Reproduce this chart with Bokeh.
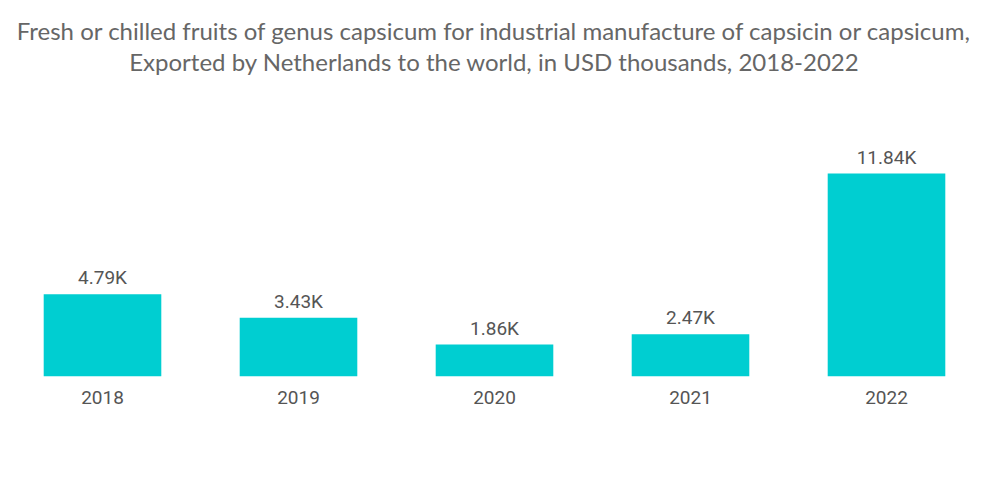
from bokeh.plotting import figure
from bokeh.models import Title, Range1d, ColumnDataSource, LabelSet, Spacer
from bokeh.layouts import column
from bokeh.core.properties import value
from bokeh.embed import file_html
from bokeh.resources import INLINE

years = ["2018", "2019", "2020", "2021", "2022"]
values = [4.79, 3.43, 1.86, 2.47, 11.84]
labels = ["4.79K", "3.43K", "1.86K", "2.47K", "11.84K"]

title1 = "Fresh or chilled fruits of genus capsicum for industrial manufacture of capsicin or capsicum,"
title2 = "Exported by Netherlands to the world, in USD thousands, 2018-2022"

src = ColumnDataSource(dict(x=years, top=values, label=labels))

FH = 301
p = figure(x_range=years, y_range=Range1d(0, 11.84 * FH / 203.0), frame_width=980, frame_height=FH,
           output_backend="svg", toolbar_location=None, title=None,
           min_border_left=4, min_border_right=0, min_border_top=0, min_border_bottom=50)
p.outline_line_color = None
p.background_fill_color = "white"
p.border_fill_color = "white"

p.add_layout(Title(text=title2, align="center", text_font="Lato", text_font_size="24px",
                   text_font_style="normal", text_color="#666666", standoff=0, offset=6), "above")
p.add_layout(Title(text=title1, align="center", text_font="Lato", text_font_size="24px",
                   text_font_style="normal", text_color="#666666", standoff=0, offset=6), "above")

p.vbar(x="x", top="top", width=0.6, source=src, color="#00CED1", line_color=None)

ls = LabelSet(x="x", y="top", text="label", source=src, text_align="center",
              text_baseline="bottom", y_offset=5, text_font=value("Roboto"),
              text_font_size="19px", text_color="#555555")
p.add_layout(ls)

p.yaxis.visible = False
p.xgrid.visible = False
p.ygrid.visible = False
p.xaxis.axis_line_color = None
p.xaxis.major_tick_line_color = None
p.xaxis.minor_tick_line_color = None
p.xaxis.major_label_text_font = "Roboto"
p.xaxis.major_label_text_font_size = "19px"
p.xaxis.major_label_text_color = "#555555"
p.xaxis.major_label_standoff = 8
p.x_range.range_padding = 0

layout = column(Spacer(width=984, height=13), p)
open("out.html", "w").write(file_html(layout, INLINE))
